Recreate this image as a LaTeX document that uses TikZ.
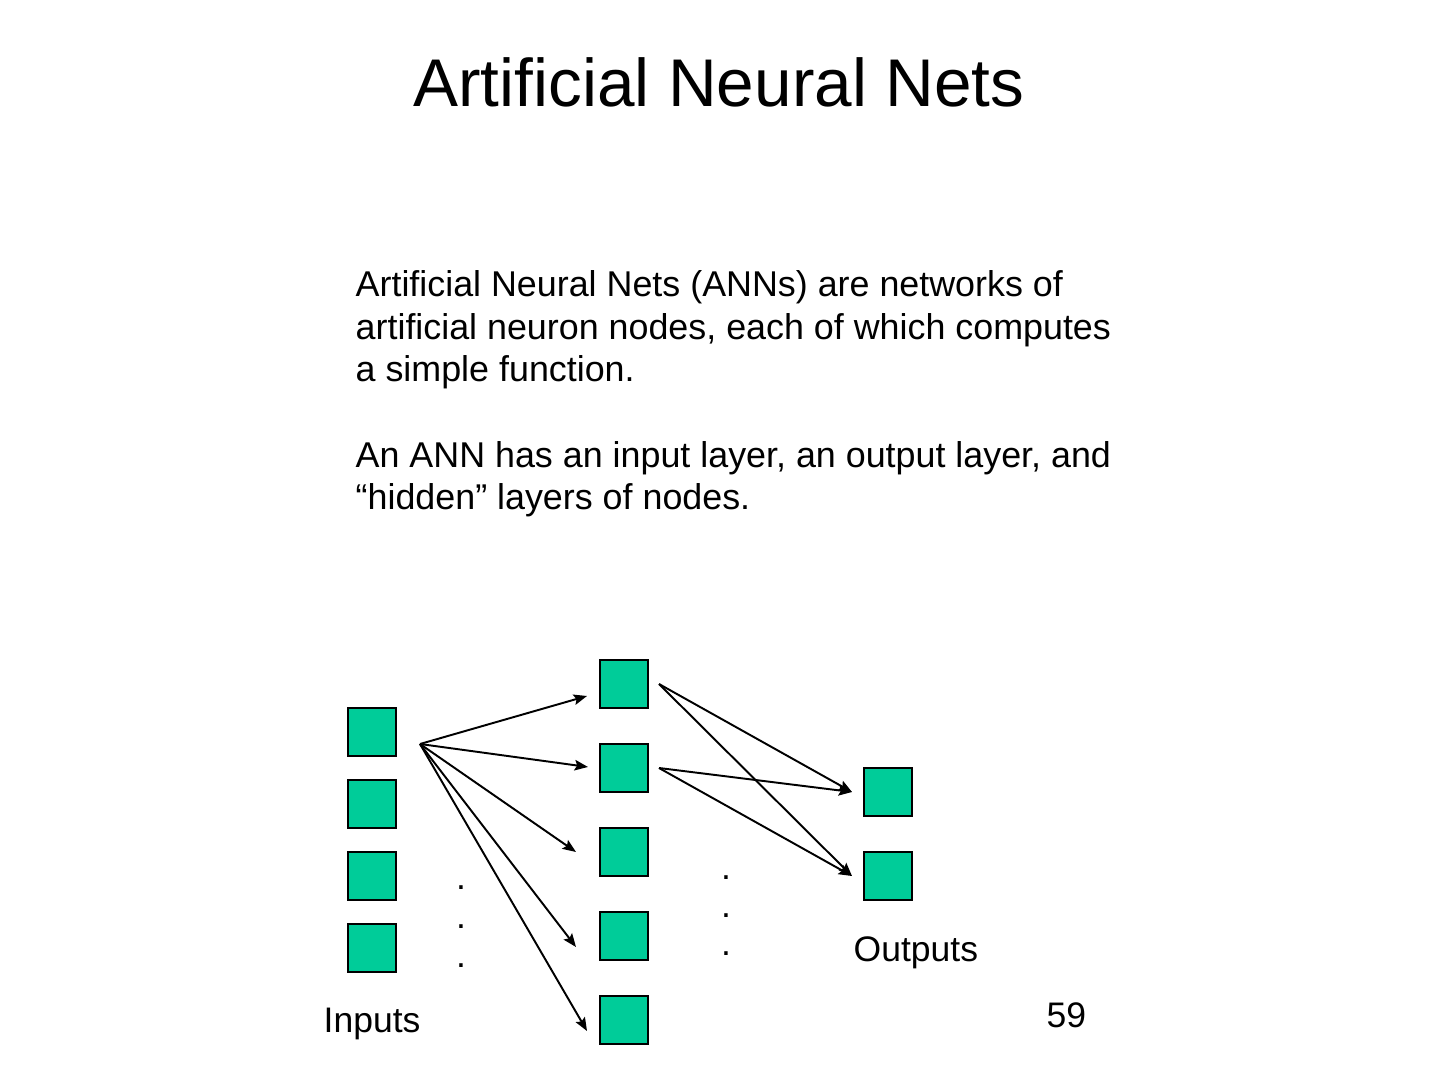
\documentclass[tikz,border=0pt]{standalone}
\usepackage{fontspec}
\setmainfont{Liberation Sans}
\usetikzlibrary{arrows.meta}
\definecolor{unitgreen}{RGB}{0,204,153}

\begin{document}
\begin{tikzpicture}[
neuron/.style={draw=black, line width=0.6pt, fill=unitgreen, minimum size=0.48cm, inner sep=0pt, outer sep=0pt},
link/.style={line width=0.55pt, -{Stealth[length=3.8pt, width=3pt, inset=0.7pt]}},
bodytext/.style={font=\fontsize{10.2}{12.23}\selectfont, align=left, anchor=base west, inner sep=0pt},
tagtext/.style={font=\fontsize{10.1}{12}\selectfont, anchor=base west, inner sep=0pt},
dotmark/.style={font=\fontsize{10.1}{12}\selectfont, anchor=base, inner sep=0pt}
]
\useasboundingbox (0,0) rectangle (14.4,-10.8);
\node[font=\fontsize{19.2}{23}\selectfont, anchor=base, inner sep=0pt] (title) at (7.19,-1.07) {Artificial Neural Nets};
% text blocks, placed by their last baseline
\node[bodytext] (para1) at (3.55,-3.82) {Artificial Neural Nets (ANNs) are networks of\\artificial neuron nodes, each of which computes\\a simple function.};
\node[bodytext] (para2) at (3.55,-5.10) {An ANN has an input layer, an output layer, and\\“hidden” layers of nodes.};
% layers
\foreach \y [count=\i] in {7.32,8.04,8.76,9.48} {
\node[neuron] (in\i) at (3.72,-\y) {};
}
\foreach \y [count=\i] in {6.84,7.68,8.52,9.36,10.20} {
\node[neuron] (hid\i) at (6.24,-\y) {};
}
\foreach \y [count=\i] in {7.92,8.76} {
\node[neuron] (out\i) at (8.88,-\y) {};
}
% connections
\coordinate (fan) at ([shift={(0.24,-0.12)}]in1.east);
\foreach \x/\y [count=\i] in {5.87/6.96, 5.88/7.67, 5.76/8.52, 5.76/9.47, 5.87/10.31} {
\coordinate (hin\i) at (\x,-\y);
\draw[link] (fan) -- (hin\i);
}
\foreach \s in {1,2} {
\coordinate (hout\s) at ([xshift=1.1mm]hid\s.east);
}
\foreach \t in {1,2} {
\coordinate (oin\t) at ([xshift=-1.2mm]out\t.west);
}
\foreach \s in {1,2} {
\foreach \t in {1,2} {
\draw[link] (hout\s) -- (oin\t);
}
}
% dots
\foreach \k in {0,1,2} {
\node[dotmark] (ldot\k) at (4.61,-8.90-0.385*\k) {.};
\node[dotmark] (rdot\k) at (7.26,-8.79-0.38*\k) {.};
}
\node[tagtext] (outputs) at (8.53,-9.61) {Outputs};
\node[tagtext] (inputs) at (3.23,-10.32) {Inputs};
\node[tagtext] (pagenum) at (10.46,-10.27) {59};
\end{tikzpicture}
\end{document}
